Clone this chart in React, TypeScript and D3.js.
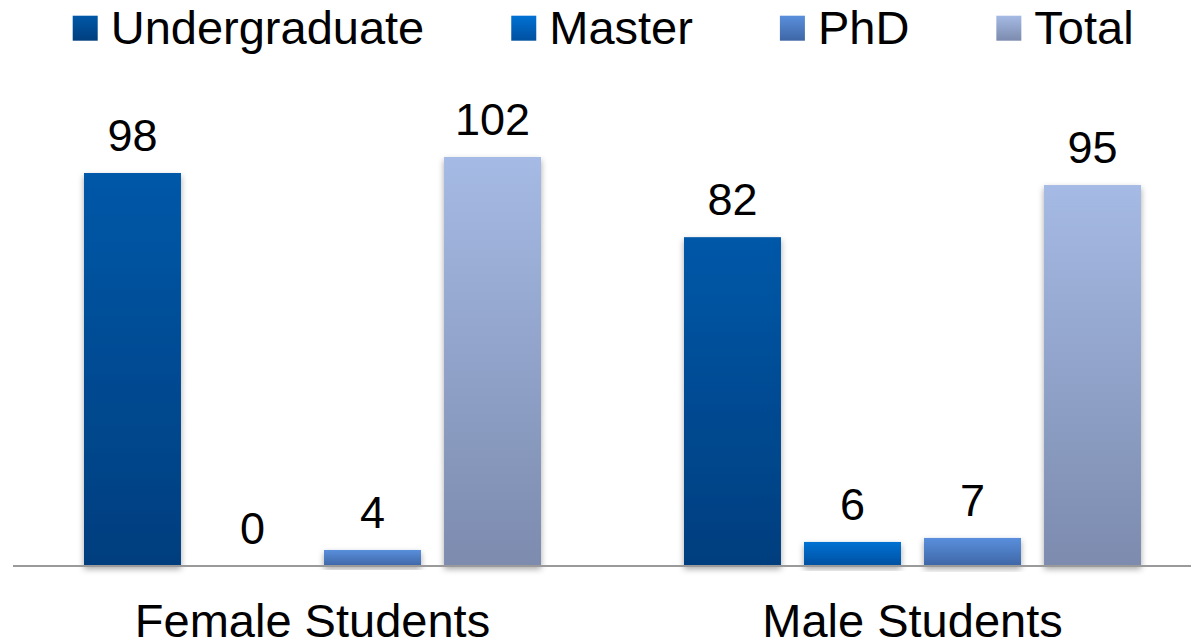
import React, { useEffect, useLayoutEffect, useRef, useState } from "react";
import * as d3 from "d3";

// data
const categories = ["Female Students", "Male Students"];
const seriesNames = ["Undergraduate", "Master", "PhD", "Total"];
const undergraduate = [98, 82];
const master = [0, 6];
const phd = [4, 7];
const total = [102, 95];

// gradient stops per series (top, bottom)
const seriesColors: [string, string][] = [
  ["#0058a8", "#003e7e"],
  ["#0071d3", "#0050a0"],
  ["#5a8fdc", "#3e66a6"],
  ["#a5bae4", "#7c8bae"],
];

const W = 1191;
const H = 644;
const FONT = "'Liberation Sans', Arial, sans-serif";

const App: React.FC = () => {
  const legendRef = useRef<SVGGElement>(null);
  const [legendX, setLegendX] = useState<number[]>([72.7, 515, 782.7, 999]);

  useEffect(() => {
    document.body.style.margin = "0";
  }, []);

  // lay the legend out from measured text widths
  useLayoutEffect(() => {
    if (!legendRef.current) return;
    const texts = d3.select(legendRef.current).selectAll<SVGTextElement, unknown>("text").nodes();
    const xs: number[] = [];
    let x = 72.7;
    texts.forEach((t) => {
      xs.push(x);
      x += 38 + t.getComputedTextLength() + 87;
    });
    setLegendX(xs);
  }, []);

  const values = [undergraduate, master, phd, total];

  const x0 = d3.scaleBand<string>().domain(categories).range([12.5, 1212.5]);
  const x1 = d3
    .scaleBand<string>()
    .domain(seriesNames)
    .range([71.5, 528.5])
    .paddingInner(0.192);
  const y = d3.scaleLinear().domain([0, 120]).range([566, 84.8]);

  return (
    <svg width={W} height={H} style={{ display: "block", fontFamily: FONT }}>
      <defs>
        {seriesColors.map((c, i) => (
          <linearGradient key={i} id={`grad${i}`} x1="0" y1="0" x2="0" y2="1">
            <stop offset="0%" stopColor={c[0]} />
            <stop offset="100%" stopColor={c[1]} />
          </linearGradient>
        ))}
        <filter id="shadow" x="-20%" y="-20%" width="140%" height="140%">
          <feDropShadow dx="0" dy="3" stdDeviation="3" floodColor="#000" floodOpacity="0.35" />
        </filter>
      </defs>

      {/* legend */}
      <g ref={legendRef}>
        {seriesNames.map((s, i) => (
          <g key={s} transform={`translate(${legendX[i]},0)`}>
            <rect x={0} y={15.7} width={25} height={25} fill={`url(#grad${i})`} />
            <text x={38} y={44} fontSize={47} fill="#000">
              {s}
            </text>
          </g>
        ))}
      </g>

      {/* bars */}
      {categories.map((cat, ci) => (
        <g key={cat} transform={`translate(${x0(cat)},0)`}>
          {seriesNames.map((s, si) => {
            const v = values[si][ci];
            const bx = x1(s)!;
            return (
              <g key={s}>
                {v > 0 && (
                  <rect
                    x={bx}
                    y={y(v)}
                    width={x1.bandwidth()}
                    height={y(0) - y(v)}
                    fill={`url(#grad${si})`}
                    filter="url(#shadow)"
                  />
                )}
                <text
                  x={bx + x1.bandwidth() / 2}
                  y={y(v) - 22}
                  textAnchor="middle"
                  fontSize={45}
                  fill="#000"
                >
                  {v}
                </text>
              </g>
            );
          })}
        </g>
      ))}

      {/* baseline */}
      <line x1={13} x2={W} y1={y(0)} y2={y(0)} stroke="#9a9a9a" strokeWidth={2} />

      {/* category labels */}
      {categories.map((cat) => (
        <text
          key={cat}
          x={x0(cat)! + x0.bandwidth() / 2}
          y={637}
          textAnchor="middle"
          fontSize={47}
          fill="#000"
        >
          {cat}
        </text>
      ))}
    </svg>
  );
};

export default App;
